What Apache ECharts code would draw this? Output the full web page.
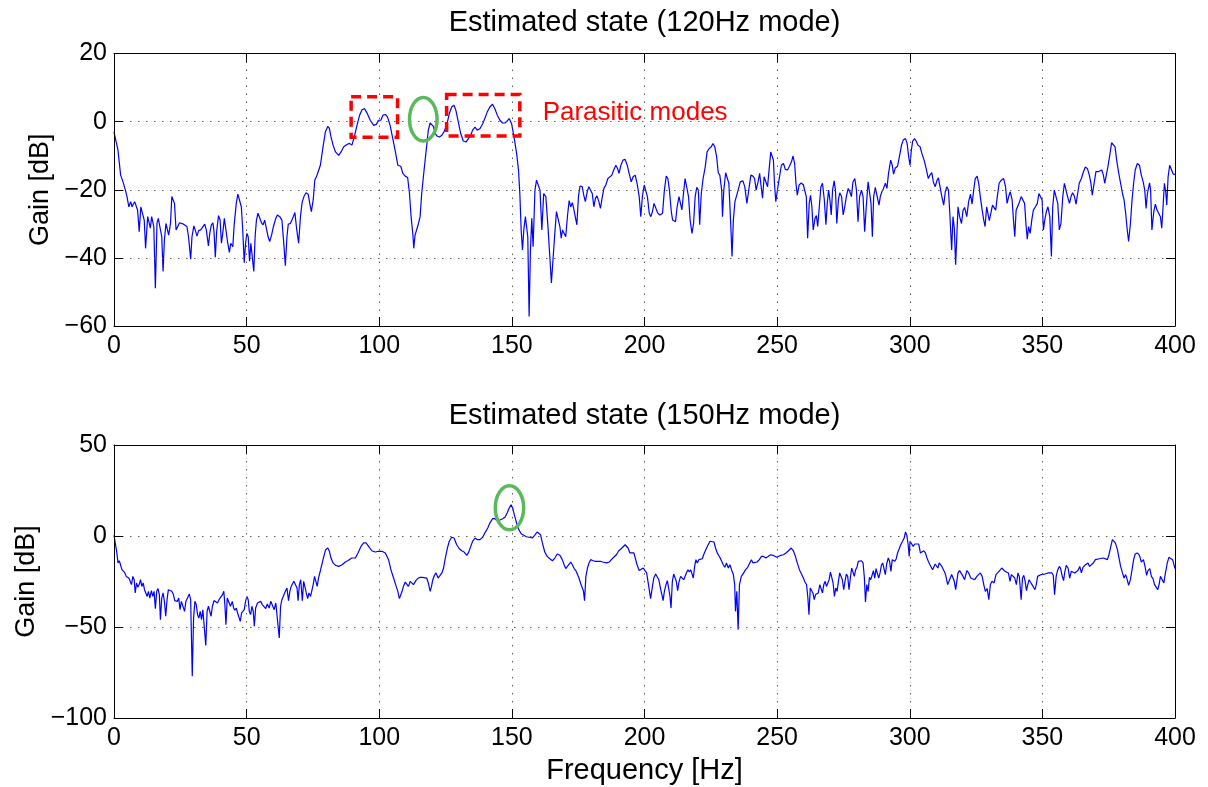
<!DOCTYPE html>
<html>
<head>
<meta charset="utf-8">
<script src="https://cdn.jsdelivr.net/npm/echarts@6/dist/echarts.min.js"></script>
<style>
  html, body { margin: 0; padding: 0; background: #fff; }
  #chart { width: 1208px; height: 787px; }
</style>
</head>
<body>
<div id="chart"></div>
<script>
// Estimated gain spectra: [frequency Hz, gain dB]
const gain120 = [
  [0,-3],[0.5,-3.5],[1.5,-8.4],[2.5,-15.7],[3.4,-17.7],[4.3,-20.1],[4.9,-22],[5.6,-25],[6.3,-23.5],[6.8,-25],
  [7.3,-24.2],[7.8,-23.5],[8.5,-23.5],[8.9,-26],[9.5,-32.3],[10.1,-25],[10.8,-24.8],[11.4,-28.9],[11.9,-37.2],[12.7,-27.9],
  [13.2,-27.6],[13.7,-31.3],[14.2,-27.9],[14.6,-27.4],[15,-30.8],[15.6,-48.9],[16.2,-29.9],[16.7,-28.4],[17.3,-28.9],[18,-33.8],
  [18.5,-44],[19,-34.7],[19.6,-29.9],[20.1,-29.7],[20.6,-33.3],[21.3,-29.9],[21.8,-22],[22.3,-21.8],[22.8,-24],[23.4,-31.8],
  [24,-31.8],[24.7,-29.7],[25.3,-30.1],[26.2,-30.1],[27.5,-30.8],[28.1,-33.8],[28.9,-40.4],[29.4,-33.8],[30.1,-30.6],[30.6,-31.8],
  [31.3,-33.6],[31.9,-32],[32.7,-31.8],[33.4,-31.6],[34.2,-30.1],[34.8,-31.8],[35.6,-36.5],[36.1,-32.8],[36.7,-30.3],[37.3,-29.7],
  [37.7,-32.3],[38.2,-39.8],[38.7,-32.3],[39.4,-27.6],[40,-28.9],[40.5,-35.7],[41,-32.8],[41.6,-28.4],[42.3,-28.9],[42.8,-35.2],
  [43.5,-38.4],[44,-35.7],[44.8,-36.7],[45.3,-30.3],[46.1,-24],[46.7,-21.3],[47.3,-21.1],[48,-25],[48.5,-31.3],[49.1,-41.4],
  [49.6,-35.7],[50.1,-32.8],[50.6,-33.8],[51.1,-41],[51.6,-35.7],[52.2,-35.7],[52.7,-44],[53.2,-33.8],[53.7,-28.9],[54.3,-26.9],
  [54.9,-27.4],[55.6,-29.7],[56.2,-30.3],[56.8,-28.9],[57.5,-29.1],[58.1,-33.8],[58.7,-35.2],[59.4,-33.3],[60.1,-30.8],[61,-28.4],
  [61.6,-27.4],[62.5,-27.9],[63.3,-28.9],[63.9,-34.7],[64.6,-42.3],[65.2,-33.8],[65.7,-30.1],[66.5,-29.9],[67.1,-30.3],[67.6,-27.9],
  [68.2,-26.7],[68.9,-31.8],[69.6,-35.7],[70.3,-27.9],[70.9,-23.8],[71.6,-22],[72.4,-20.9],[73.2,-21.3],[73.8,-24],[74.4,-26.4],
  [75.1,-23],[75.7,-17.2],[76.5,-15.8],[77.2,-15.4],
  [77.8,-12.8],[78.8,-7.4],[79.7,-3],[80.6,-1.4],[81.2,-2],[81.8,-4.5],[82.6,-6.9],[83.5,-8.9],[84.7,-9.9],[85.6,-8.9],
  [86.6,-7.4],[87.8,-6.7],[88.8,-6.4],[89.7,-6.9],[90.6,-4.5],[91.6,-1.1],[92.6,1.9],[93.5,3.5],[94.5,3.8],[95.4,2.5],
  [96.6,0.4],[97.9,-1.1],[98.9,-0.8],[99.7,0.4],[100.6,0.4],[101.4,1.9],[102.3,2.1],[103.1,1.4],[104.1,-1.1],[105.1,-5],
  [106.1,-8.9],[107,-12.8],[107.6,-12.3],[108.1,-13.1],[108.9,-15.2],[109.8,-16],[110.7,-16.4],[111.4,-21.1],[112,-27.9],[112.7,-33.3],
  [113,-37.2],[113.5,-33.3],[114.2,-32.8],[114.8,-29.9],[115.4,-27.9],[116,-21.1],[116.9,-14.2],[117.7,-8.4],[118.5,-2.5],[119.2,-0.4],
  [119.8,-0.1],[120.4,-1.4],[121.1,-3.5],[121.9,-4.3],[122.7,-4.5],[123.6,-4],[124.4,-3],[125.4,-1.1],[126.4,2.3],[127.3,4.3],
  [128.2,4.8],[128.9,3.3],[129.8,-0.1],[130.7,-3.5],[131.7,-5.7],[132.7,-6],[133.6,-5],[134.5,-4],[135.2,-2.5],[136.1,-1.6],
  [137,-2.5],[138,-2],[139,-0.6],[139.8,0.9],[140.7,2.8],[141.7,4.3],[142.7,5.1],[143.6,3.8],[144.5,1.9],[145.5,0.4],
  [146.5,-0.4],[147.4,-0.4],[148.2,0.2],[149,0.9],[149.9,-0.6],[150.8,-4.5],[151.8,-9.4],[152.5,-14.2],[153,-21.1],[153.5,-31.8],
  [154,-37.7],[154.5,-31.8],[155.1,-27.9],[155.6,-27.9],[156,-33.8],[156.5,-57.2],[157,-37.7],[157.5,-28.4],
  [158,-36.7],[158.7,-20.1],[159.3,-17.2],[159.9,-16.7],[160.6,-20.1],[161.3,-31.8],[162,-21.1],[162.8,-22],[163.6,-30.8],[164.3,-39.6],
  [164.9,-47.4],[165.5,-40.5],[166.1,-33.8],[166.8,-26.4],[167.4,-26.9],[168.1,-30.8],[168.6,-34.2],[169.1,-31.8],[169.7,-31.3],[170.3,-33.8],
  [171,-27.4],[171.6,-23.2],[172.2,-25],[172.8,-23.8],[173.3,-25.5],[174,-25],[174.5,-30.3],[175.1,-22],[175.7,-18.9],[176.5,-19.1],
  [177.1,-21.6],[177.7,-23.5],[178.4,-20.6],[179,-19.1],[179.6,-18.6],[180.3,-21.1],[180.9,-25],[181.5,-22.5],[182.1,-21.8],[182.8,-23.5],
  [183.4,-25.5],[184,-22.5],[184.7,-19.6],[185.4,-18.6],[186.2,-16.7],[186.9,-16.4],[187.7,-15.7],[188.4,-14.2],[189.2,-12.8],[189.8,-13.7],
  [190.4,-15.2],[191.1,-12.8],[191.9,-11.3],[192.7,-11.1],[193.5,-12.8],[194.2,-15.2],[195,-17.7],[195.7,-16.2],[196.5,-15.7],[197.2,-18.1],
  [198,-22],[198.6,-27.9],[199.2,-22],[199.9,-18.6],[200.5,-18.1],[201.1,-22],[201.8,-26.9],[202.4,-27.9],[203,-26.4],[203.6,-24],
  [204.3,-24.2],[204.9,-26.7],[205.8,-27.4],[206.8,-26.9],[207.5,-20.1],[208.2,-16],[208.8,-16.7],[209.4,-20.1],[210.1,-26.4],[210.6,-28.9],
  [211.2,-28.4],[211.7,-29.4],[212.3,-25],[213,-22],[213.6,-22],[214.1,-25.9],[214.7,-21.1],[215.3,-16.7],[216,-17.2],[216.6,-22],
  [217.2,-28.9],[217.9,-32.8],[218.5,-29.9],[219.1,-22],[219.7,-19.3],[220.3,-20.1],[220.8,-30.3],[221.4,-21.1],[222.1,-16.7],[222.9,-13.3],
  [223.6,-8.9],[224.4,-7.9],[225.2,-7.4],[225.8,-6.4],[226.5,-7.4],[227.2,-10.3],[227.8,-15],[228.4,-15.7],[229.1,-20.1],[229.4,-27.9],
  [229.9,-20.1],[230.6,-15],[231.2,-14.5],[231.8,-18.1],[232.5,-29.9],[233,-39.6],[233.5,-28.9],[234.1,-23.5],[234.7,-23],[235.3,-20.1],
  [236.1,-17.7],[237.1,-17.4],[237.8,-19.1],[238.6,-24],[239.3,-20.1],[240.1,-15.7],[240.9,-16],[241.5,-16.7],[242.1,-20.1],[242.8,-17.7],
  [243.4,-15.2],[243.9,-15.7],[244.5,-22.5],[245.1,-16.2],[245.8,-15.7],[246.4,-19.1],[247,-13.8],[247.6,-8.9],[248.1,-8.4],[248.6,-11.3],
  [249,-18.1],[249.5,-23.5],[250.1,-20.1],[250.9,-16.2],[251.6,-12.8],[252.4,-12.3],[253.1,-14],[253.9,-14.2],[254.6,-13.2],[255.4,-11.8],
  [256,-10.1],[256.6,-12.3],[257.1,-18.1],[257.6,-21.6],[258.3,-18.6],[259.1,-18],[259.9,-18.6],[260.5,-19.1],[261,-22],[261.5,-34.2],
  [262.1,-24],[262.6,-21.6],[263.1,-25],[263.6,-31.8],[264.3,-28.4],[264.8,-27.6],[265.3,-30.8],[265.9,-25],[266.5,-19.1],[267.1,-18.1],
  [267.8,-23],[268.4,-30.3],[268.9,-24],[269.4,-20.1],[269.9,-23],[270.4,-27.4],[270.9,-20.1],[271.5,-17.4],[272,-20.1],[272.5,-29.9],
  [273.1,-23],[273.6,-20.9],[274.3,-22],[274.9,-27.4],[275.5,-25],[276.1,-22],[276.8,-19.6],[277.4,-20.6],[278,-22],[278.6,-17.7],
  [279.3,-16.7],[279.9,-20.1],[280.5,-29.4],[281.1,-22],[281.8,-20.1],[282.4,-22],[283,-32.3],[283.6,-25],[284.3,-17.7],[284.9,-17.2],
  [285.4,-24],[285.9,-33.8],[286.4,-22],[287,-19.3],[287.6,-19.1],[288.4,-24.5],[288.9,-22],[289.5,-20.6],[290.1,-19.6],[290.8,-18.1],
  [291.4,-19.6],[292,-15.2],[292.8,-11.3],[293.4,-12.8],[293.9,-15.4],[294.5,-13.7],[295.4,-13.1],[296.1,-10.3],[296.9,-6.9],[297.6,-5.3],
  [298.4,-5],[299,-6.4],[299.6,-10.3],[300.1,-12.8],[300.6,-8.4],[301.1,-5.7],[301.8,-5],[302.4,-5.7],[303.1,-6.9],[303.9,-7.4],
  [304.6,-9.4],[305.4,-11.3],[305.9,-12.8],[306.5,-13.1],[307,-16.7],[307.6,-15.7],[308.3,-15],[308.9,-17.7],[309.6,-19.1],[310.3,-17.2],
  [310.8,-16.5],[311.4,-19.1],[312.1,-22],[312.8,-24.5],[313.4,-20.6],[314,-19.1],[314.6,-20.1],[315.1,-26.9],[315.8,-37.7],[316.3,-27.9],
  [316.8,-31.3],[317.3,-42],
  [318.2,-25],[318.8,-27.9],[319.5,-29.9],[320.1,-26],[320.7,-25.2],[321.5,-27.9],[322.2,-23.5],[322.9,-21.3],[323.5,-24.2],[324.1,-20.1],
  [324.7,-16.7],[325.4,-16],[326,-18.1],[326.6,-22],[327.3,-26],[327.9,-28.9],[328.4,-30.8],[329,-25],[329.5,-24.5],[330,-29.1],
  [330.5,-28.9],[331.2,-24.5],[331.8,-25],[332.4,-26],[333,-22],[333.7,-18.1],[334.5,-17.2],[335.4,-16.7],[336.1,-19.1],[336.7,-24],
  [337.3,-22],[337.9,-20.6],[338.6,-23],[339.1,-28.9],[339.6,-33.8],[340.1,-26],[340.8,-25.5],[341.4,-23.5],[342,-22],[342.7,-21.9],
  [343.3,-24],[343.8,-29.9],[344.3,-34.5],[344.8,-30.8],[345.4,-32.8],[346,-28.9],[346.6,-26],[347.4,-25],[348.1,-24],[348.7,-21.1],
  [349.4,-20.6],[349.9,-23],[350.4,-31.8],[350.9,-28.9],[351.5,-26.4],[352.1,-25],[352.8,-27.9],[353.4,-39.6],[353.9,-25],[354.5,-20.1],
  [355.2,-19.6],[355.8,-24],[356.4,-31.8],[357,-29.9],[357.7,-22],[358.3,-18.1],[358.9,-18.6],[359.5,-22],[360.2,-24],[360.8,-22],
  [361.4,-20.9],[362.1,-22],[362.7,-24.2],[363.3,-21.1],[363.9,-18.1],[364.7,-16.7],[365.5,-14.7],[366.2,-13.3],[367,-13.8],[367.7,-15.7],
  [368.3,-18.1],[368.8,-21.6],[369.5,-18.1],[370.2,-14.7],[371,-14.7],[371.7,-15],[372.4,-14.2],[373,-15.7],[373.5,-18.1],[374.1,-15.7],
  [374.7,-13.3],[375.5,-9.4],[376.1,-6.2],[376.8,-6],[377.4,-7.4],[378,-11.3],[378.8,-15.2],[379.5,-18.1],[380.2,-21.1],[380.8,-23],
  [381.4,-26.9],[382,-31.8],[382.5,-35.2],[383.2,-29.9],[383.8,-23],[384.4,-18.1],[385,-14.2],[385.8,-12.3],[386.6,-12.8],[387.3,-15.7],
  [388,-17.7],[388.6,-20.1],[389.1,-25.5],[389.6,-21.1],[390.4,-18],[390.8,-20.1],[391.3,-31.8],[392,-26.4],[392.6,-24.2],[393.2,-25.9],
  [393.8,-25.5],[394.5,-27.9],[395,-31.3],[395.5,-25],[396,-18.1],[396.5,-20.6],[396.9,-24.5],[397.4,-16.2],[398,-12.8],[398.6,-13.1],
  [399.3,-15.4],[400,-15.5]
];

const gain150 = [
  [0,0.4],[0.5,-0.2],[1,-8.4],[1.5,-14.8],[2,-13.6],[2.5,-13.9],[3,-18.5],[3.5,-17.9],[4.1,-20.3],[4.6,-22.2],
  [5.1,-21.6],[5.6,-23.1],[6.1,-22.7],[6.6,-26.7],[7.1,-22.2],[7.6,-24],[8,-31.3],[8.5,-25.8],[9,-28.2],[9.5,-26.7],
  [10,-24],[10.5,-27.7],[11,-25.8],[11.5,-29.5],[12,-30.4],[12.5,-33.2],[13,-30.4],[13.5,-34.1],[14.1,-30],[14.6,-33.2],
  [15.1,-30.4],[15.6,-39.9],[16.1,-30.4],[16.6,-28.9],[17.1,-32.2],[17.5,-46],[18,-34.1],[18.5,-31.3],[19,-35.9],[19.5,-44.1],
  [20,-35],[20.5,-29.5],[21.1,-29.5],[21.8,-30.4],[22.4,-32.2],[22.9,-35.5],[23.4,-35],[23.9,-35.9],[24.4,-34.1],[24.9,-40.5],
  [25.4,-35.9],[26.1,-36.8],[26.6,-41.4],[27.1,-35.9],[27.7,-34.1],[28.4,-31.9],[28.9,-35],[29.5,-77.1],[30,-45.1],[30.5,-35.9],
  [31,-37.7],[31.5,-43.2],[32,-45.1],[32.5,-41.4],[33,-46],[33.5,-40.5],[34.1,-41.4],[34.6,-60.1],[35.1,-41.4],[35.6,-38.6],
  [36.1,-39.6],[36.6,-44.1],[37.1,-38.6],[37.7,-35.5],[38.4,-35.9],[39,-36.8],[39.6,-35],[40.3,-35.9],[40.9,-32.2],[41.4,-30.4],
  [41.8,-37.7],[42.2,-48.7],[42.7,-34.1],[43.3,-35],[43.9,-38.6],[44.6,-35.9],[45.1,-39.6],[45.6,-40.8],[46.1,-39.6],[46.6,-42.3],
  [47.1,-41.4],[47.6,-46.9],[48.1,-42.3],[48.6,-41.4],[49.1,-40.5],[49.6,-35.9],[50.1,-33.2],[50.6,-35],[51,-41.4],[51.5,-43.2],
  [52,-38.6],[52.5,-41.4],[52.9,-49.6],[53.4,-39.6],[54.1,-36.8],[54.7,-36.3],[55.3,-35.9],[55.9,-37.7],[56.6,-37.4],[57.2,-39.9],
  [57.8,-37.4],[58.5,-39.6],[59.1,-35.9],[59.7,-35],[60.4,-40.5],[61,-36.8],[61.6,-37.7],[62.3,-56],[62.8,-38.6],[63.3,-35],
  [63.9,-35],[64.6,-30.4],[65.2,-28.6],[65.8,-35.5],[66.3,-30.4],[66.8,-27.7],[67.3,-28.6],[67.8,-24.9],[68.4,-24.5],[69,-28.6],
  [69.4,-35.5],[69.9,-26.7],[70.4,-24],[71,-35.5],[71.5,-24.9],[72,-24],[72.5,-31.3],[73,-34.4],[73.5,-31.3],[74.1,-33.2],
  [74.6,-34.1],[75.1,-26.7],[75.6,-22.2],[76.1,-23.1],[76.6,-27.7],[77.1,-23.1],[77.6,-20.3],[78.2,-19.4],
  [79.1,-11.2],[79.8,-7.5],[80.6,-6.6],[81.2,-8.4],[81.8,-12.1],[82.6,-14.8],[83.5,-16.1],[84.7,-16.7],[86,-15.8],[87.2,-14.3],
  [88.1,-13.6],[88.8,-13.9],[89.7,-12.1],[91,-12.1],[92,-9.3],[93.1,-5.7],[94.1,-3.8],[95,-3.8],[96,-5.7],[97.2,-8.1],
  [98.5,-8.8],[99.7,-8.4],[101,-8.4],[102.3,-9.3],[103.5,-13],[104.4,-18.5],[105.4,-23.1],[106.4,-27.7],[107,-30.4],[107.6,-34.4],
  [108.1,-34.1],[108.6,-30.4],[109.1,-27.7],[109.8,-25.3],[110.4,-25.3],[111,-27.7],[111.7,-24.9],[112.3,-25.3],[112.9,-26.7],[113.8,-24.5],
  [114.5,-23.4],[115.4,-22.7],[116.3,-22.7],[117,-23.1],[117.9,-23.1],[118.5,-25.8],[119.2,-30.4],[119.7,-27.7],[120.2,-24],[120.8,-21.6],
  [121.4,-20.3],[122.2,-23.1],[122.9,-23.1],[123.6,-20.3],[124.2,-17.9],[124.9,-12.1],[125.7,-6.6],[126.4,-2.9],[127.3,-0.7],[128.2,-1.1],
  [129.2,-4.8],[130.2,-7],[131.1,-8.1],[132,-8.8],[133,-10.6],[133.6,-9.3],[134.5,-5.7],[135.2,-2.9],[136.1,-1.1],[137,-2],
  [138,-2],[139,-0.7],[139.8,1.6],[140.9,4.4],[141.7,7.1],[142.7,9.5],[143.6,9.5],[144.5,8.4],[145.5,8.8],[146.5,9.5],
  [147.4,10.3],[148.2,12.6],[149,15.4],[149.7,17.2],[150.3,15.4],[150.9,11.7],[151.8,7.1],[152.6,3.5],[153.6,1.1],[154.5,0.4],
  [155.5,-0.4],[156.5,-0.7],
  [157.7,-1.1],[158.6,0.4],[159.5,2.2],[160.1,2.6],[160.8,0.7],[161.5,-3.8],[162.4,-8.8],[163.3,-11.2],[164.3,-12.5],[165.3,-13.6],
  [166.2,-12.1],[167.1,-9.9],[168.1,-10.6],[169,-13],[169.7,-15.8],[170.3,-17.9],[170.9,-18.5],[171.6,-15.4],[172.2,-14.3],[172.8,-15.8],
  [173.5,-17.9],[174.1,-19],[174.7,-19.8],[175.3,-23.1],[176,-26.4],[176.6,-27.1],[177,-30.4],[177.4,-35.5],[177.9,-22.2],[178.5,-17.6],
  [179.1,-14.8],[179.7,-13],[180.6,-13.6],[181.6,-13.9],[182.5,-13.9],[183.4,-13.9],[184.2,-14.3],[184.9,-13.9],[185.7,-14.8],[186.7,-14.3],
  [187.5,-13],[188.4,-11.7],[189.4,-10.3],[190.3,-8.1],[191.2,-7],[191.9,-7],[192.7,-4.8],[193.2,-4.4],[193.8,-6.6],[194.5,-9.3],
  [195.2,-9.9],[196,-9.3],[196.6,-10.3],[197.2,-15.8],[198,-19],[198.7,-18.5],[199.5,-17.6],[200.1,-18.5],[200.8,-20.3],[201.5,-26.7],
  [202.3,-34.4],[202.9,-28.6],[203.5,-23.1],[204.2,-20.9],[204.8,-21.2],[205.4,-24],[206,-28.6],[206.7,-33.2],[207,-35.5],[207.5,-30.4],
  [208.1,-26.7],[208.6,-24.5],[209.1,-28.6],[209.6,-33.2],[210,-39.6],[210.5,-24.9],[211,-20.9],[211.5,-20.3],[212,-24.9],[212.5,-30],
  [213,-25.3],[213.6,-22.2],[214.2,-23.1],[214.8,-24],[215.3,-24.5],[215.8,-20.3],[216.4,-18.5],[216.9,-19.8],[217.4,-18.5],[217.9,-17.6],
  [218.4,-23.1],[218.9,-16.7],[219.4,-13],[219.9,-14.8],[220.5,-13],[221.1,-12.1],[221.8,-12.5],[222.4,-9.9],[223.1,-7.5],[223.9,-5.1],
  [224.7,-2.9],[225.4,-2.6],[226.2,-3.3],[226.8,-6.6],[227.4,-9.3],[227.9,-10.3],[228.4,-11.7],[229.1,-11.2],[229.7,-15.8],[230.3,-17.2],
  [230.9,-14.8],[231.6,-17.6],[232.2,-15.8],[232.8,-18.5],[233.5,-21.2],[234,-26.7],[234.3,-41.4],[234.8,-30.4],[235.3,-51.5],[235.8,-26.7],
  [236.5,-22.2],
  [237.4,-20.3],[238.1,-18.5],[238.9,-17.2],[239.6,-16.7],[240.3,-13],[240.9,-14.8],[241.6,-15.8],[242.4,-14.3],[243.3,-13],[244.1,-11.2],
  [244.9,-11.2],[245.8,-12.1],[246.6,-11.2],[247.5,-10.3],[248.4,-10.6],[249.1,-10.3],[249.9,-11.7],[250.6,-12.1],[251.4,-10.6],[252.4,-10.3],
  [253.3,-9.3],[254.3,-8.1],[255.3,-6.6],[256.1,-8.1],[256.9,-11.2],[257.6,-14.8],[258.4,-18.5],[259.1,-19.4],[259.9,-23.1],[260.5,-25.3],
  [261.1,-26.7],[261.6,-34.1],[262,-43.2],[262.5,-28.6],[263,-27.7],[263.5,-31.3],[264,-35],[264.5,-32.2],[265,-33.2],[265.5,-31.3],
  [266.1,-26.7],[266.6,-27.7],[267.1,-31.3],[267.6,-26.7],[268.1,-24.9],[268.6,-27.7],[269.1,-28.6],[269.6,-24],[270.1,-19.8],[270.6,-20.3],
  [271.1,-25.8],[271.6,-33.2],[272.1,-28.6],[272.6,-30.4],[273.1,-24.9],[273.6,-20.3],[274.1,-19.4],[274.6,-24],[275.1,-29.5],[275.6,-24.9],
  [276.1,-20.9],[276.6,-22.2],[277.1,-29.5],[277.6,-23.1],[278.1,-17.6],[278.6,-18.5],[279.1,-22.2],[279.6,-18.5],[280.1,-17.2],[280.6,-13.9],
  [281.1,-13],[281.8,-13.6],[282.4,-14.8],[282.9,-23.1],[283.3,-36.3],[283.8,-26.7],[284.3,-30.4],[284.8,-22.7],[285.3,-24],[285.8,-23.1],
  [286.3,-19],[286.8,-23.1],[287.3,-17.9],[287.8,-17.2],[288.3,-23.1],[288.8,-20.3],[289.3,-16.1],[289.8,-14.8],[290.3,-13.9],[290.8,-21.2],
  [291.3,-15.4],[291.9,-12.1],[292.4,-13.9],[292.9,-19.4],[293.4,-13],[293.9,-12.1],[294.4,-13.9],[294.9,-12.5],[295.4,-9.3],[296,-8.4],
  [296.6,-4.8],[297.3,-2.9],[297.9,-1.1],[298.4,2.2],[298.9,0.4],[299.4,-4.8],[299.8,-11.2],[300.1,-2.9],[300.6,-3.8],[301.3,-5.7],
  [301.9,-4.4],[302.6,-3.8],[303.4,-4.4],[304,-9.3],[304.6,-8.8],[305.3,-8.1],[305.9,-9.3],[306.5,-12.1],[307,-13.9],[307.6,-15.8],
  [308.1,-14.8],[308.6,-18.5],[309.1,-17.6],[309.6,-15.4],[310.1,-15.8],[310.6,-17.6],[311.1,-14.8],[311.6,-14.3],[312.1,-16.7],[312.8,-17.6],
  [313.3,-20.3],[313.8,-23.1],[314.3,-26.7],[314.8,-24.9],[315.3,-24],[315.8,-21.2],[316.3,-22.2],[316.8,-24.9],[317.3,-29.5],
  [318.2,-20.3],[318.8,-19],[319.5,-18.5],[320.1,-22.2],[320.7,-24],[321.5,-19],[322.2,-20.3],[323,-23.1],[323.7,-23.4],[324.5,-24],
  [325.3,-22.2],[326,-21.6],[326.6,-20.3],[327.3,-22.2],[327.9,-26.7],[328.5,-30.4],[329.2,-28.9],[329.8,-35],[330.4,-26.7],[331,-24.9],
  [331.8,-25.8],[332.5,-21.2],[333.3,-20],[334,-19.8],[334.7,-17.6],[335.3,-17.9],[335.9,-19.4],[336.6,-18.5],[337.2,-20.3],[337.8,-24.9],
  [338.3,-21.2],[339,-20.3],[339.6,-23.1],[340.2,-26.7],[340.8,-20.3],[341.3,-22.2],[342,-35],[342.5,-23.1],[343,-21.6],[343.5,-24.9],
  [344,-30],[344.5,-26.7],[345,-24],[345.5,-25.3],[346.1,-26.7],[346.7,-28.2],[347.2,-29.5],[347.7,-26.7],[348.2,-22.2],[348.9,-21.2],
  [349.5,-21.2],[350.1,-20.3],[350.9,-20.9],[351.6,-20],[352.4,-20.3],[353.1,-21.2],[353.6,-20.3],[354.1,-21.6],[354.6,-32.2],[355.2,-22.2],
  [355.8,-18.5],[356.4,-16.7],[356.9,-17.9],[357.4,-21.6],[358,-24.5],[358.4,-20.3],[359,-16.1],[359.7,-17.6],[360.3,-23.1],[360.9,-19.4],
  [361.6,-18.5],[362.2,-20.3],[362.8,-21.2],[363.4,-19],[364.1,-16.7],[364.7,-20.3],[365.3,-17.2],[366,-16.1],[366.6,-15.8],[367.2,-14.8],
  [367.8,-16.7],[368.5,-15.8],[369.2,-14.8],[370,-13],[370.7,-12.1],[371.5,-12.5],[372.2,-11.7],[373,-12.1],[373.7,-11.2],[374.5,-13],
  [375.1,-10.3],[375.8,-5.7],[376.4,-2],[376.9,-1.6],[377.5,-3.8],[378.3,-7.5],[378.9,-12.1],[379.5,-16.7],[380.2,-20.3],[380.8,-23.1],
  [381.4,-21.2],[382,-24],[382.5,-27.1],[383.2,-24],[383.8,-18.5],[384.4,-13],[385,-9.9],[385.8,-9.3],[386.6,-10.6],[387.3,-14.3],
  [388.1,-13],[388.7,-16.7],[389.3,-21.6],[389.8,-19],[390.5,-17.9],[391.1,-22.2],[391.7,-23.4],[392.3,-26.7],[393,-27.7],[393.5,-29.5],
  [394,-26.7],[394.5,-22.2],[395.2,-21.2],[395.8,-25.8],[396.4,-20.3],[397.1,-14.8],[397.7,-11.7],[398.4,-11.2],[399.1,-13],[400,-17.9]
];

// Panel titles and axis ranges
const panelTitles = ['Estimated state (120Hz mode)', 'Estimated state (150Hz mode)'];
const freqTicks = { min: 0, max: 400, interval: 50 };
const gainTicks = [{ min: -60, max: 20, interval: 20 }, { min: -100, max: 50, interval: 50 }];

// Annotations (data units): dashed boxes [f1, f2, gTop, gBottom], ellipses [fc, gc, rf, rg, panel]
const parasiticBoxes = [[89.4, 106.9, 7.3, -4.6], [125.4, 153.0, 8.0, -4.2]];
const modeEllipses = [[116.6, 0.7, 5.2, 6.4, 0], [149.1, 15.5, 5.35, 12.1, 1]];
const parasiticLabel = { text: 'Parasitic modes', freq: 161.6, gain: 2.5 };

const FONT = '"Liberation Sans", Arial, Helvetica, sans-serif';
const minus = v => String(v).replace('-', '\u2212');

const chart = echarts.init(document.getElementById('chart'), null, { renderer: 'canvas' });

const grids = [
  { left: 114, right: 33, top: 53.5, height: 272.5 },
  { left: 114, right: 33, top: 445, height: 273 }
];
const titleOffsets = [31, 29];

function xAxes(gridIndex, withName) {
  const base = {
    gridIndex, type: 'value', min: freqTicks.min, max: freqTicks.max, interval: freqTicks.interval,
    axisLine: { show: true, onZero: false, lineStyle: { color: '#000', width: 1 } },
    axisTick: { show: true, inside: true, length: 9, lineStyle: { color: '#000', width: 1 } },
    z: 5
  };
  return [
    Object.assign({}, base, {
      position: 'bottom',
      axisLabel: { show: true, margin: 8, color: '#000', fontSize: 25, fontFamily: FONT, formatter: minus },
      splitLine: { show: true, lineStyle: { color: '#5a5a5a', width: 1, type: [1.5, 6.5] } },
      name: withName ? 'Frequency [Hz]' : '',
      nameLocation: 'middle', nameGap: 38,
      nameTextStyle: { color: '#000', fontSize: 29, fontFamily: FONT }
    }),
    Object.assign({}, base, {
      position: 'top',
      axisLabel: { show: false },
      splitLine: { show: false }
    })
  ];
}

function yAxes(gridIndex) {
  const t = gainTicks[gridIndex];
  const base = {
    gridIndex, type: 'value', min: t.min, max: t.max, interval: t.interval,
    axisLine: { show: true, onZero: false, lineStyle: { color: '#000', width: 1 } },
    axisTick: { show: true, inside: true, length: 9, lineStyle: { color: '#000', width: 1 } },
    z: 5
  };
  return [
    Object.assign({}, base, {
      position: 'left',
      axisLabel: { show: true, margin: 7, color: '#000', fontSize: 25, fontFamily: FONT, formatter: minus },
      splitLine: { show: true, lineStyle: { color: '#5a5a5a', width: 1, type: [1.5, 6.5] } },
      name: 'Gain [dB]', nameLocation: 'middle', nameGap: 59,
      nameTextStyle: { color: '#000', fontSize: 27, fontFamily: FONT }
    }),
    Object.assign({}, base, {
      position: 'right',
      axisLabel: { show: false },
      splitLine: { show: false }
    })
  ];
}

chart.setOption({
  animation: false,
  backgroundColor: '#ffffff',
  grid: grids,
  xAxis: [].concat(xAxes(0, false), xAxes(1, true)),
  yAxis: [].concat(yAxes(0), yAxes(1)),
  series: [
    {
      type: 'line', xAxisIndex: 0, yAxisIndex: 0, data: gain120,
      showSymbol: false, symbol: 'none', smooth: false,
      lineStyle: { color: '#0000ff', width: 1.2 }, z: 3
    },
    {
      type: 'line', xAxisIndex: 2, yAxisIndex: 2, data: gain150,
      showSymbol: false, symbol: 'none', smooth: false,
      lineStyle: { color: '#0000ff', width: 1.2 }, z: 3
    }
  ]
});

// Overlay elements placed through the axes' own scales
function px(gridIndex, f, g) {
  return chart.convertToPixel({ gridIndex }, [f, g]);
}

const overlay = [];
panelTitles.forEach((txt, i) => {
  overlay.push({
    type: 'text', x: (114 + 1175) / 2, y: grids[i].top - titleOffsets[i],
    style: { text: txt, font: '29px ' + FONT, fill: '#000', align: 'center', verticalAlign: 'middle' }
  });
});

parasiticBoxes.forEach(b => {
  const p1 = px(0, b[0], b[2]);
  const p2 = px(0, b[1], b[3]);
  overlay.push({
    type: 'rect', z: 10,
    shape: { x: p1[0], y: p1[1], width: p2[0] - p1[0], height: p2[1] - p1[1] },
    style: { fill: null, stroke: '#ff0000', lineWidth: 3.5, lineDash: [10, 6] }
  });
});

modeEllipses.forEach(e => {
  const c = px(e[4], e[0], e[1]);
  const edge = px(e[4], e[0] + e[2], e[1] + e[3]);
  overlay.push({
    type: 'ellipse', z: 10,
    shape: { cx: c[0], cy: c[1], rx: Math.abs(edge[0] - c[0]), ry: Math.abs(edge[1] - c[1]) },
    style: { fill: null, stroke: '#5cb85c', lineWidth: 3.5 }
  });
});

const lp = px(0, parasiticLabel.freq, parasiticLabel.gain);
overlay.push({
  type: 'text', z: 10, x: lp[0], y: lp[1],
  style: { text: parasiticLabel.text, font: '26px ' + FONT, fill: '#ff0000', align: 'left', verticalAlign: 'middle' }
});

chart.setOption({ graphic: overlay });
</script>
</body>
</html>
